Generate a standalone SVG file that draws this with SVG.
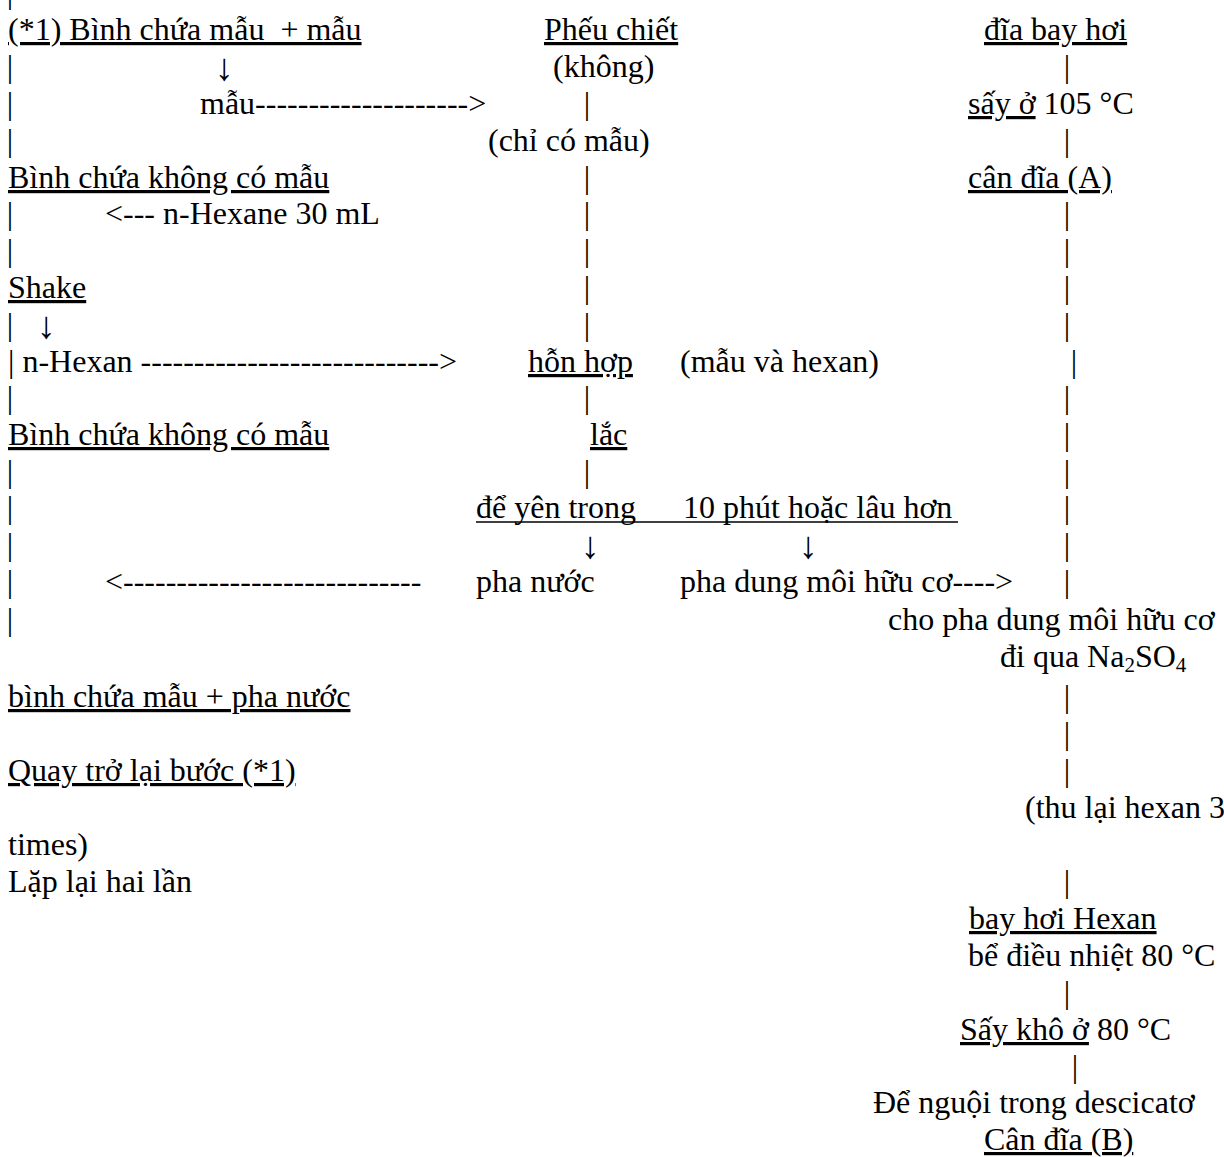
<svg xmlns="http://www.w3.org/2000/svg" width="1224" height="1157" viewBox="0 0 1224 1157">
<style>
text{font-family:"Liberation Serif","Times New Roman",serif;font-size:32px;fill:#000;white-space:pre}
.u{text-decoration:underline}
.b{text-anchor:middle}
.m{text-anchor:middle;font-size:38px}
</style>
<rect width="1224" height="1157" fill="#fff"/>
<g id="connectors">
<!-- left column bars -->
<text class="b" x="10" y="3">|</text>
<text class="b" x="10" y="77">|</text>
<text class="b" x="10" y="114">|</text>
<text class="b" x="10" y="151">|</text>
<text class="b" x="10" y="224">|</text>
<text class="b" x="10" y="261">|</text>
<text class="b" x="10" y="335">|</text>
<text class="b" x="10" y="408">|</text>
<text class="b" x="10" y="482">|</text>
<text class="b" x="10" y="518">|</text>
<text class="b" x="10" y="555">|</text>
<text class="b" x="10" y="592">|</text>
<text class="b" x="10" y="630">|</text>
<!-- middle column bars -->
<text class="b" x="587" y="114">|</text>
<text class="b" x="587" y="188">|</text>
<text class="b" x="587" y="224">|</text>
<text class="b" x="587" y="261">|</text>
<text class="b" x="587" y="298">|</text>
<text class="b" x="587" y="335">|</text>
<text class="b" x="587" y="408">|</text>
<text class="b" x="587" y="482">|</text>
<!-- right column bars -->
<text class="b" x="1067" y="77">|</text>
<text class="b" x="1067" y="151">|</text>
<text class="b" x="1067" y="224">|</text>
<text class="b" x="1067" y="261">|</text>
<text class="b" x="1067" y="298">|</text>
<text class="b" x="1067" y="335">|</text>
<text class="b" x="1074" y="372">|</text>
<text class="b" x="1067" y="408">|</text>
<text class="b" x="1067" y="445">|</text>
<text class="b" x="1067" y="482">|</text>
<text class="b" x="1067" y="518">|</text>
<text class="b" x="1067" y="555">|</text>
<text class="b" x="1067" y="592">|</text>
<text class="b" x="1067" y="707">|</text>
<text class="b" x="1067" y="744">|</text>
<text class="b" x="1067" y="781">|</text>
<text class="b" x="1067" y="892">|</text>
<text class="b" x="1067" y="1003">|</text>
<text class="b" x="1075" y="1077">|</text>
<!-- arrows -->
<text class="m" x="224" y="80">↓</text>
<text class="m" x="46" y="338">↓</text>
<text class="m" x="590" y="558">↓</text>
<text class="m" x="808" y="558">↓</text>
<text x="8" y="372">| n-Hexan ----------------------------&gt;</text>
<text x="105" y="224">&lt;--- n-Hexane 30 mL</text>
<text x="105" y="592">&lt;----------------------------</text>
</g>
<g id="n-binh-chua-mau"><text class="u" x="8" y="40">(*1) Bình chứa mẫu  + mẫu</text></g>
<g id="n-pheu-chiet"><text class="u" x="544" y="40">Phếu chiết</text></g>
<g id="n-dia-bay-hoi"><text class="u" x="984" y="40">đĩa bay hơi</text></g>
<g id="n-khong"><text x="553" y="77">(không)</text></g>
<g id="n-mau"><text x="200" y="114">mẫu--------------------&gt;</text></g>
<g id="n-say-105"><text x="968" y="114"><tspan class="u">sấy ở</tspan> 105 °C</text></g>
<g id="n-chi-co-mau"><text x="488" y="151">(chỉ có mẫu)</text></g>
<g id="n-binh-khong-1"><text class="u" x="8" y="188">Bình chứa không có mẫu</text></g>
<g id="n-can-dia-a"><text class="u" x="968" y="188">cân đĩa (A)</text></g>
<g id="n-shake"><text class="u" x="8" y="298">Shake</text></g>
<g id="n-hon-hop"><text class="u" x="528" y="372">hỗn hợp</text><text x="680" y="372">(mẫu và hexan)</text></g>
<g id="n-binh-khong-2"><text class="u" x="8" y="445">Bình chứa không có mẫu</text></g>
<g id="n-lac"><text class="u" x="590" y="445">lắc</text></g>
<g id="n-de-yen"><text x="476" y="518">để yên trong</text><text x="683" y="518">10 phút hoặc lâu hơn</text><line x1="476" y1="522" x2="958" y2="522" stroke="#000" stroke-width="1.6"/></g>
<g id="n-pha-nuoc"><text x="476" y="592">pha nước</text></g>
<g id="n-pha-huu-co"><text x="680" y="592">pha dung môi hữu cơ----&gt;</text></g>
<g id="n-na2so4"><text x="888" y="630">cho pha dung môi hữu cơ</text><text x="1000" y="667">đi qua Na<tspan font-size="21" dy="5">2</tspan><tspan dy="-5">SO</tspan><tspan font-size="21" dy="5">4</tspan></text></g>
<g id="n-binh-pha-nuoc"><text class="u" x="8" y="707">bình chứa mẫu + pha nước</text></g>
<g id="n-quay-tro-lai"><text class="u" x="8" y="781">Quay trở lại bước (*1)</text></g>
<g id="n-thu-lai"><text x="1025" y="818">(thu lại hexan 3</text></g>
<g id="n-lap-lai"><text x="8" y="855">times)</text><text x="8" y="892">Lặp lại hai lần</text></g>
<g id="n-bay-hoi"><text class="u" x="969" y="929">bay hơi Hexan</text><text x="968" y="966">bể điều nhiệt 80 °C</text></g>
<g id="n-say-kho"><text x="960" y="1040"><tspan class="u">Sấy khô ở</tspan> 80 °C</text></g>
<g id="n-de-nguoi"><text x="873" y="1113">Để nguội trong descicatơ</text></g>
<g id="n-can-dia-b"><text class="u" x="984" y="1150">Cân đĩa (B)</text></g>
</svg>
